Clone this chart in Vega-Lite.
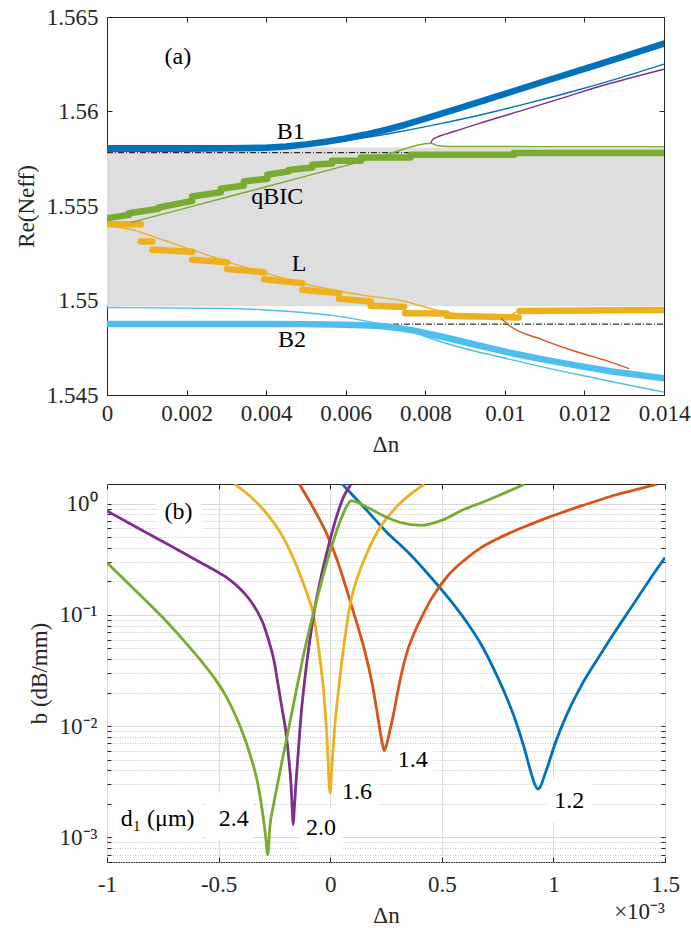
{
  "$schema": "https://vega.github.io/schema/vega-lite/v6.json",
  "background": "white",
  "padding": {"left": 14, "top": 5, "right": 5, "bottom": 5},
  "spacing": 26,
  "config": {
    "font": "Liberation Serif",
    "view": {"stroke": "#262626", "strokeWidth": 1},
    "axis": {
      "labelFont": "Liberation Serif", "titleFont": "Liberation Serif",
      "labelFontSize": 23, "titleFontSize": 23, "titleFontWeight": "normal",
      "labelColor": "#262626", "titleColor": "#262626", "tickColor": "#262626",
      "domain": false, "grid": false, "labelFlush": false, "labelOverlap": false
    },
    "text": {"font": "Liberation Serif", "fontSize": 24, "color": "#000000"}
  },
  "datasets": {
    "band": [{"x1": 0, "x2": 0.014, "y1": 1.5497, "y2": 1.5581}],
    "ref": [
      {"x1": 0, "x2": 0.014, "y": 1.55782},
      {"x1": 0, "x2": 0.014, "y": 1.54875}
    ],
    "thick": [
      {"band": "B1", "seg": "B1", "x": 0, "y": 1.55803},
      {"band": "B1", "seg": "B1", "x": 0.002, "y": 1.55803},
      {"band": "B1", "seg": "B1", "x": 0.004, "y": 1.55808},
      {"band": "B1", "seg": "B1", "x": 0.0045, "y": 1.55815},
      {"band": "B1", "seg": "B1", "x": 0.005, "y": 1.55826},
      {"band": "B1", "seg": "B1", "x": 0.0055, "y": 1.5584},
      {"band": "B1", "seg": "B1", "x": 0.006, "y": 1.55857},
      {"band": "B1", "seg": "B1", "x": 0.0065, "y": 1.55878},
      {"band": "B1", "seg": "B1", "x": 0.007, "y": 1.55903},
      {"band": "B1", "seg": "B1", "x": 0.0075, "y": 1.5593},
      {"band": "B1", "seg": "B1", "x": 0.008, "y": 1.55962},
      {"band": "B1", "seg": "B1", "x": 0.009, "y": 1.56027},
      {"band": "B1", "seg": "B1", "x": 0.01, "y": 1.56093},
      {"band": "B1", "seg": "B1", "x": 0.011, "y": 1.5616},
      {"band": "B1", "seg": "B1", "x": 0.012, "y": 1.56226},
      {"band": "B1", "seg": "B1", "x": 0.013, "y": 1.56292},
      {"band": "B1", "seg": "B1", "x": 0.014, "y": 1.56359},
      {"band": "B2", "seg": "B2", "x": 0, "y": 1.54876},
      {"band": "B2", "seg": "B2", "x": 0.004, "y": 1.54876},
      {"band": "B2", "seg": "B2", "x": 0.005, "y": 1.54875},
      {"band": "B2", "seg": "B2", "x": 0.006, "y": 1.54872},
      {"band": "B2", "seg": "B2", "x": 0.0068, "y": 1.54866},
      {"band": "B2", "seg": "B2", "x": 0.0073, "y": 1.54855},
      {"band": "B2", "seg": "B2", "x": 0.00767, "y": 1.54843},
      {"band": "B2", "seg": "B2", "x": 0.00851, "y": 1.54804},
      {"band": "B2", "seg": "B2", "x": 0.00935, "y": 1.54762},
      {"band": "B2", "seg": "B2", "x": 0.01018, "y": 1.54721},
      {"band": "B2", "seg": "B2", "x": 0.01102, "y": 1.54686},
      {"band": "B2", "seg": "B2", "x": 0.01186, "y": 1.54654},
      {"band": "B2", "seg": "B2", "x": 0.01269, "y": 1.54624},
      {"band": "B2", "seg": "B2", "x": 0.014, "y": 1.54589},
      {"band": "qBIC", "seg": "q1", "x": 0, "y": 1.55435},
      {"band": "qBIC", "seg": "q1", "x": 0.00055, "y": 1.55453},
      {"band": "qBIC", "seg": "q2", "x": 0.00055, "y": 1.55462},
      {"band": "qBIC", "seg": "q2", "x": 0.0013, "y": 1.55485},
      {"band": "qBIC", "seg": "q3", "x": 0.0013, "y": 1.55492},
      {"band": "qBIC", "seg": "q3", "x": 0.00214, "y": 1.55527},
      {"band": "qBIC", "seg": "q4", "x": 0.00214, "y": 1.5555},
      {"band": "qBIC", "seg": "q4", "x": 0.00286, "y": 1.55573},
      {"band": "qBIC", "seg": "q5", "x": 0.00286, "y": 1.55591},
      {"band": "qBIC", "seg": "q5", "x": 0.00344, "y": 1.55608},
      {"band": "qBIC", "seg": "q6", "x": 0.00344, "y": 1.5563},
      {"band": "qBIC", "seg": "q6", "x": 0.00403, "y": 1.55644},
      {"band": "qBIC", "seg": "q7", "x": 0.00403, "y": 1.55665},
      {"band": "qBIC", "seg": "q7", "x": 0.00457, "y": 1.55683},
      {"band": "qBIC", "seg": "q8", "x": 0.00457, "y": 1.55691},
      {"band": "qBIC", "seg": "q8", "x": 0.00516, "y": 1.55704},
      {"band": "qBIC", "seg": "q9", "x": 0.00516, "y": 1.55718},
      {"band": "qBIC", "seg": "q9", "x": 0.00566, "y": 1.55725},
      {"band": "qBIC", "seg": "q10", "x": 0.00566, "y": 1.55739},
      {"band": "qBIC", "seg": "q10", "x": 0.00638, "y": 1.55739},
      {"band": "qBIC", "seg": "q11", "x": 0.00638, "y": 1.55757},
      {"band": "qBIC", "seg": "q11", "x": 0.00763, "y": 1.55757},
      {"band": "qBIC", "seg": "q12", "x": 0.00763, "y": 1.55771},
      {"band": "qBIC", "seg": "q12", "x": 0.01023, "y": 1.55771},
      {"band": "qBIC", "seg": "q13", "x": 0.01023, "y": 1.55781},
      {"band": "qBIC", "seg": "q13", "x": 0.014, "y": 1.55781},
      {"band": "L", "seg": "l1", "x": 0, "y": 1.55404},
      {"band": "L", "seg": "l1", "x": 0.00085, "y": 1.55404},
      {"band": "L", "seg": "l2", "x": 0.00085, "y": 1.55312},
      {"band": "L", "seg": "l2", "x": 0.00114, "y": 1.55312},
      {"band": "L", "seg": "l3", "x": 0.00114, "y": 1.55269},
      {"band": "L", "seg": "l3", "x": 0.00214, "y": 1.55258},
      {"band": "L", "seg": "l4", "x": 0.00214, "y": 1.55215},
      {"band": "L", "seg": "l4", "x": 0.00302, "y": 1.55203},
      {"band": "L", "seg": "l5", "x": 0.00302, "y": 1.55166},
      {"band": "L", "seg": "l5", "x": 0.00395, "y": 1.5515},
      {"band": "L", "seg": "l6", "x": 0.00395, "y": 1.55113},
      {"band": "L", "seg": "l6", "x": 0.00491, "y": 1.55092},
      {"band": "L", "seg": "l7", "x": 0.00491, "y": 1.55057},
      {"band": "L", "seg": "l7", "x": 0.00583, "y": 1.55039},
      {"band": "L", "seg": "l8", "x": 0.00583, "y": 1.55009},
      {"band": "L", "seg": "l8", "x": 0.00663, "y": 1.54995},
      {"band": "L", "seg": "l9", "x": 0.00663, "y": 1.54972},
      {"band": "L", "seg": "l9", "x": 0.00747, "y": 1.54966},
      {"band": "L", "seg": "l10", "x": 0.00749, "y": 1.54933},
      {"band": "L", "seg": "l10", "x": 0.00854, "y": 1.54931},
      {"band": "L", "seg": "l11", "x": 0.00855, "y": 1.54919},
      {"band": "L", "seg": "l11", "x": 0.01035, "y": 1.5491},
      {"band": "L", "seg": "l12", "x": 0.01037, "y": 1.54945},
      {"band": "L", "seg": "l12", "x": 0.014, "y": 1.5495}
    ],
    "thin": [
      {"band": "B1", "x": 0, "y": 1.55819},
      {"band": "B1", "x": 0.003, "y": 1.55819},
      {"band": "B1", "x": 0.0045, "y": 1.55821},
      {"band": "B1", "x": 0.0052, "y": 1.55826},
      {"band": "B1", "x": 0.006, "y": 1.55847},
      {"band": "B1", "x": 0.0065, "y": 1.55862},
      {"band": "B1", "x": 0.00727, "y": 1.5589},
      {"band": "B1", "x": 0.00838, "y": 1.55936},
      {"band": "B1", "x": 0.00949, "y": 1.55987},
      {"band": "B1", "x": 0.01059, "y": 1.56044},
      {"band": "B1", "x": 0.0117, "y": 1.56106},
      {"band": "B1", "x": 0.01281, "y": 1.56173},
      {"band": "B1", "x": 0.014, "y": 1.56251},
      {"band": "EP+", "x": 0.00814, "y": 1.55832},
      {"band": "EP+", "x": 0.00818, "y": 1.5585},
      {"band": "EP+", "x": 0.0083, "y": 1.55865},
      {"band": "EP+", "x": 0.00851, "y": 1.5588},
      {"band": "EP+", "x": 0.00893, "y": 1.55908},
      {"band": "EP+", "x": 0.00951, "y": 1.55947},
      {"band": "EP+", "x": 0.0105, "y": 1.5601},
      {"band": "EP+", "x": 0.0115, "y": 1.56075},
      {"band": "EP+", "x": 0.0125, "y": 1.5614},
      {"band": "EP+", "x": 0.014, "y": 1.56224},
      {"band": "qBIC", "x": 0.00061, "y": 1.55413},
      {"band": "qBIC", "x": 0.002, "y": 1.5549},
      {"band": "qBIC", "x": 0.004, "y": 1.55602},
      {"band": "qBIC", "x": 0.006, "y": 1.55714},
      {"band": "qBIC", "x": 0.007, "y": 1.5577},
      {"band": "qBIC", "x": 0.00814, "y": 1.55832},
      {"band": "qBIC", "x": 0.0083, "y": 1.5582},
      {"band": "qBIC", "x": 0.0086, "y": 1.55815},
      {"band": "qBIC", "x": 0.014, "y": 1.55814},
      {"band": "L", "x": 0, "y": 1.55397},
      {"band": "L", "x": 0.00064, "y": 1.55374},
      {"band": "L", "x": 0.00147, "y": 1.55316},
      {"band": "L", "x": 0.00231, "y": 1.55256},
      {"band": "L", "x": 0.00315, "y": 1.55196},
      {"band": "L", "x": 0.00399, "y": 1.55145},
      {"band": "L", "x": 0.00483, "y": 1.55095},
      {"band": "L", "x": 0.00566, "y": 1.55057},
      {"band": "L", "x": 0.0065, "y": 1.55026},
      {"band": "L", "x": 0.00734, "y": 1.55002},
      {"band": "L", "x": 0.00851, "y": 1.54938},
      {"band": "L", "x": 0.0099, "y": 1.54906},
      {"band": "L", "x": 0.0101, "y": 1.54918},
      {"band": "L", "x": 0.0103, "y": 1.5494},
      {"band": "L", "x": 0.0106, "y": 1.54952},
      {"band": "L", "x": 0.014, "y": 1.54956},
      {"band": "EP−", "x": 0.0099, "y": 1.54906},
      {"band": "EP−", "x": 0.01011, "y": 1.54868},
      {"band": "EP−", "x": 0.01095, "y": 1.54792},
      {"band": "EP−", "x": 0.01178, "y": 1.5473},
      {"band": "EP−", "x": 0.01262, "y": 1.54677},
      {"band": "EP−", "x": 0.01312, "y": 1.5464},
      {"band": "B2", "x": 0, "y": 1.54963},
      {"band": "B2", "x": 0.003, "y": 1.54958},
      {"band": "B2", "x": 0.004, "y": 1.5495},
      {"band": "B2", "x": 0.005, "y": 1.54935},
      {"band": "B2", "x": 0.0057, "y": 1.5492},
      {"band": "B2", "x": 0.0068, "y": 1.54878},
      {"band": "B2", "x": 0.00767, "y": 1.54832},
      {"band": "B2", "x": 0.00851, "y": 1.54774},
      {"band": "B2", "x": 0.01018, "y": 1.54686},
      {"band": "B2", "x": 0.01186, "y": 1.54607},
      {"band": "B2", "x": 0.014, "y": 1.54515}
    ],
    "toplabels": [
      {"t": "(a)", "x": 0.00178, "y": 1.56291},
      {"t": "B1", "x": 0.00462, "y": 1.55894},
      {"t": "qBIC", "x": 0.00428, "y": 1.5555},
      {"t": "L", "x": 0.00483, "y": 1.55194},
      {"t": "B2", "x": 0.00465, "y": 1.5479}
    ],
    "boxes": [
      {"x1": -0.78, "x2": -0.579, "b1": 0.566, "b2": 1.13},
      {"x1": -0.973, "x2": -0.57, "b1": 0.00095, "b2": 0.0025},
      {"x1": -0.556, "x2": -0.346, "b1": 0.00095, "b2": 0.0025},
      {"x1": -0.138, "x2": 0.056, "b1": 0.0007, "b2": 0.0018},
      {"x1": 0.026, "x2": 0.213, "b1": 0.0019, "b2": 0.00353},
      {"x1": 0.272, "x2": 0.459, "b1": 0.00379, "b2": 0.00658},
      {"x1": 0.974, "x2": 1.168, "b1": 0.00135, "b2": 0.0033}
    ],
    "botlabels": [
      {"t": "(b)", "x": -0.68, "b": 0.84},
      {"t": "d₁ (μm)", "x": -0.773, "b": 0.00146},
      {"t": "2.4", "x": -0.432, "b": 0.00146},
      {"t": "2.0", "x": -0.041, "b": 0.00121},
      {"t": "1.6", "x": 0.12, "b": 0.00254},
      {"t": "1.4", "x": 0.37, "b": 0.00492},
      {"t": "1.2", "x": 1.071, "b": 0.0021}
    ],
    "note": [{"t": "×10⁻³", "x": 1.5, "b": 0.000185}],
    "loss": [
      {"d": "1.2", "x": 0.055, "b": 1.493}, {"d": "1.2", "x": 0.15, "b": 0.933}, {"d": "1.2", "x": 0.25, "b": 0.5623},
      {"d": "1.2", "x": 0.35, "b": 0.3631}, {"d": "1.2", "x": 0.45, "b": 0.2188}, {"d": "1.2", "x": 0.55, "b": 0.1259},
      {"d": "1.2", "x": 0.62, "b": 0.0813}, {"d": "1.2", "x": 0.68, "b": 0.0525}, {"d": "1.2", "x": 0.75, "b": 0.02754},
      {"d": "1.2", "x": 0.825, "b": 0.01202}, {"d": "1.2", "x": 0.87, "b": 0.00631}, {"d": "1.2", "x": 0.9, "b": 0.0038},
      {"d": "1.2", "x": 0.918, "b": 0.00295}, {"d": "1.2", "x": 0.93, "b": 0.00272}, {"d": "1.2", "x": 0.945, "b": 0.00295},
      {"d": "1.2", "x": 0.959, "b": 0.00355}, {"d": "1.2", "x": 0.975, "b": 0.00437}, {"d": "1.2", "x": 1.004, "b": 0.00661},
      {"d": "1.2", "x": 1.064, "b": 0.0132}, {"d": "1.2", "x": 1.124, "b": 0.0229}, {"d": "1.2", "x": 1.2, "b": 0.0407},
      {"d": "1.2", "x": 1.273, "b": 0.069}, {"d": "1.2", "x": 1.35, "b": 0.1175}, {"d": "1.2", "x": 1.422, "b": 0.1945},
      {"d": "1.2", "x": 1.5, "b": 0.327},
      {"d": "1.4", "x": -0.138, "b": 1.493}, {"d": "1.4", "x": -0.07, "b": 0.871}, {"d": "1.4", "x": -0.011, "b": 0.5105},
      {"d": "1.4", "x": 0.035, "b": 0.2951}, {"d": "1.4", "x": 0.078, "b": 0.1581}, {"d": "1.4", "x": 0.12, "b": 0.0832},
      {"d": "1.4", "x": 0.153, "b": 0.0489}, {"d": "1.4", "x": 0.19, "b": 0.0229}, {"d": "1.4", "x": 0.213, "b": 0.01225},
      {"d": "1.4", "x": 0.23, "b": 0.0076}, {"d": "1.4", "x": 0.242, "b": 0.00603}, {"d": "1.4", "x": 0.252, "b": 0.00676},
      {"d": "1.4", "x": 0.262, "b": 0.00813}, {"d": "1.4", "x": 0.272, "b": 0.01}, {"d": "1.4", "x": 0.283, "b": 0.01259},
      {"d": "1.4", "x": 0.3, "b": 0.01905}, {"d": "1.4", "x": 0.317, "b": 0.02818}, {"d": "1.4", "x": 0.345, "b": 0.04677},
      {"d": "1.4", "x": 0.377, "b": 0.069}, {"d": "1.4", "x": 0.41, "b": 0.0955}, {"d": "1.4", "x": 0.452, "b": 0.1377},
      {"d": "1.4", "x": 0.526, "b": 0.2234}, {"d": "1.4", "x": 0.6, "b": 0.309}, {"d": "1.4", "x": 0.676, "b": 0.4018},
      {"d": "1.4", "x": 0.75, "b": 0.4842}, {"d": "1.4", "x": 0.825, "b": 0.5675}, {"d": "1.4", "x": 0.9, "b": 0.6531},
      {"d": "1.4", "x": 0.974, "b": 0.7482}, {"d": "1.4", "x": 1.05, "b": 0.8472}, {"d": "1.4", "x": 1.124, "b": 0.9528},
      {"d": "1.4", "x": 1.2, "b": 1.0666}, {"d": "1.4", "x": 1.273, "b": 1.1885}, {"d": "1.4", "x": 1.37, "b": 1.3335},
      {"d": "1.4", "x": 1.464, "b": 1.493},
      {"d": "1.6", "x": -0.428, "b": 1.493}, {"d": "1.6", "x": -0.35, "b": 1.122}, {"d": "1.6", "x": -0.28, "b": 0.794},
      {"d": "1.6", "x": -0.22, "b": 0.537}, {"d": "1.6", "x": -0.17, "b": 0.339}, {"d": "1.6", "x": -0.116, "b": 0.1811},
      {"d": "1.6", "x": -0.071, "b": 0.091}, {"d": "1.6", "x": -0.05, "b": 0.0468}, {"d": "1.6", "x": -0.026, "b": 0.0173},
      {"d": "1.6", "x": -0.012, "b": 0.00631}, {"d": "1.6", "x": -0.004, "b": 0.00282}, {"d": "1.6", "x": 0.0, "b": 0.0025},
      {"d": "1.6", "x": 0.006, "b": 0.00398}, {"d": "1.6", "x": 0.018, "b": 0.00869}, {"d": "1.6", "x": 0.041, "b": 0.0245},
      {"d": "1.6", "x": 0.063, "b": 0.0562}, {"d": "1.6", "x": 0.093, "b": 0.1349}, {"d": "1.6", "x": 0.13, "b": 0.2399},
      {"d": "1.6", "x": 0.168, "b": 0.3715}, {"d": "1.6", "x": 0.21, "b": 0.5495}, {"d": "1.6", "x": 0.258, "b": 0.7586},
      {"d": "1.6", "x": 0.317, "b": 1.023}, {"d": "1.6", "x": 0.37, "b": 1.259}, {"d": "1.6", "x": 0.422, "b": 1.493},
      {"d": "2.0", "x": -1, "b": 0.859}, {"d": "2.0", "x": -0.878, "b": 0.6286}, {"d": "2.0", "x": -0.728, "b": 0.4305},
      {"d": "2.0", "x": -0.579, "b": 0.2944}, {"d": "2.0", "x": -0.52, "b": 0.2529}, {"d": "2.0", "x": -0.459, "b": 0.2128},
      {"d": "2.0", "x": -0.42, "b": 0.1841}, {"d": "2.0", "x": -0.385, "b": 0.1567}, {"d": "2.0", "x": -0.355, "b": 0.1318},
      {"d": "2.0", "x": -0.325, "b": 0.1059}, {"d": "2.0", "x": -0.3, "b": 0.0832}, {"d": "2.0", "x": -0.28, "b": 0.0631},
      {"d": "2.0", "x": -0.25, "b": 0.0372}, {"d": "2.0", "x": -0.235, "b": 0.0245}, {"d": "2.0", "x": -0.215, "b": 0.01413},
      {"d": "2.0", "x": -0.198, "b": 0.00869}, {"d": "2.0", "x": -0.185, "b": 0.00501}, {"d": "2.0", "x": -0.176, "b": 0.00308},
      {"d": "2.0", "x": -0.17, "b": 0.00178}, {"d": "2.0", "x": -0.166, "b": 0.0013}, {"d": "2.0", "x": -0.161, "b": 0.00178},
      {"d": "2.0", "x": -0.153, "b": 0.00316}, {"d": "2.0", "x": -0.14, "b": 0.00708}, {"d": "2.0", "x": -0.131, "b": 0.01225},
      {"d": "2.0", "x": -0.115, "b": 0.0251}, {"d": "2.0", "x": -0.095, "b": 0.0525}, {"d": "2.0", "x": -0.07, "b": 0.1122},
      {"d": "2.0", "x": -0.04, "b": 0.2239}, {"d": "2.0", "x": -0.01, "b": 0.3981}, {"d": "2.0", "x": 0.034, "b": 0.8299},
      {"d": "2.0", "x": 0.06, "b": 1.148}, {"d": "2.0", "x": 0.093, "b": 1.493},
      {"d": "2.4", "x": -1, "b": 0.2944}, {"d": "2.4", "x": -0.878, "b": 0.1694}, {"d": "2.4", "x": -0.728, "b": 0.0849},
      {"d": "2.4", "x": -0.65, "b": 0.0569}, {"d": "2.4", "x": -0.58, "b": 0.0389}, {"d": "2.4", "x": -0.52, "b": 0.02723},
      {"d": "2.4", "x": -0.47, "b": 0.01905}, {"d": "2.4", "x": -0.43, "b": 0.01318}, {"d": "2.4", "x": -0.4, "b": 0.00955},
      {"d": "2.4", "x": -0.36, "b": 0.00562}, {"d": "2.4", "x": -0.325, "b": 0.00308}, {"d": "2.4", "x": -0.305, "b": 0.00178},
      {"d": "2.4", "x": -0.29, "b": 0.00105}, {"d": "2.4", "x": -0.28, "b": 0.000698}, {"d": "2.4", "x": -0.27, "b": 0.00126},
      {"d": "2.4", "x": -0.255, "b": 0.00191}, {"d": "2.4", "x": -0.235, "b": 0.00308}, {"d": "2.4", "x": -0.19, "b": 0.00869},
      {"d": "2.4", "x": -0.145, "b": 0.0245}, {"d": "2.4", "x": -0.116, "b": 0.0468}, {"d": "2.4", "x": -0.071, "b": 0.1119},
      {"d": "2.4", "x": -0.011, "b": 0.3155}, {"d": "2.4", "x": 0.048, "b": 0.7228}, {"d": "2.4", "x": 0.075, "b": 0.955},
      {"d": "2.4", "x": 0.093, "b": 1.057}, {"d": "2.4", "x": 0.11, "b": 1.047}, {"d": "2.4", "x": 0.168, "b": 0.9204},
      {"d": "2.4", "x": 0.25, "b": 0.7586}, {"d": "2.4", "x": 0.317, "b": 0.6745}, {"d": "2.4", "x": 0.407, "b": 0.6383},
      {"d": "2.4", "x": 0.5, "b": 0.7079}, {"d": "2.4", "x": 0.601, "b": 0.8892}, {"d": "2.4", "x": 0.68, "b": 1.023},
      {"d": "2.4", "x": 0.75, "b": 1.1695}, {"d": "2.4", "x": 0.87, "b": 1.493}
    ]
  },
  "resolve": {"scale": {"x": "independent", "y": "independent", "color": "independent"}},
  "vconcat": [
    {
      "width": 557,
      "height": 378,
      "resolve": {"axis": {"x": "independent", "y": "independent"}},
      "layer": [
        {
          "data": {"name": "band"},
          "mark": {"type": "rect", "color": "#dedede"},
          "encoding": {
            "x": {"field": "x1", "type": "quantitative", "scale": {"domain": [0, 0.014], "nice": false},
              "axis": {"values": [0, 0.002, 0.004, 0.006, 0.008, 0.01, 0.012, 0.014], "format": ".3~f", "title": "Δn", "tickSize": -5, "labelPadding": 12, "titlePadding": 8}},
            "x2": {"field": "x2"},
            "y": {"field": "y1", "type": "quantitative", "scale": {"domain": [1.545, 1.565], "nice": false, "zero": false},
              "axis": {"values": [1.545, 1.55, 1.555, 1.56, 1.565], "format": ".3~f", "title": "Re(Neff)", "tickSize": -5, "labelPadding": 14, "titlePadding": 8}},
            "y2": {"field": "y2"}
          }
        },
        {
          "data": {"name": "ref"},
          "mark": {"type": "rule", "color": "#000000", "strokeWidth": 1, "strokeDash": [6, 2, 1, 2]},
          "encoding": {
            "x": {"field": "x1", "type": "quantitative", "scale": {"domain": [0, 0.014], "nice": false},
              "axis": {"orient": "top", "values": [0, 0.002, 0.004, 0.006, 0.008, 0.01, 0.012, 0.014], "labels": false, "title": null, "tickSize": -5}},
            "x2": {"field": "x2"},
            "y": {"field": "y", "type": "quantitative", "scale": {"domain": [1.545, 1.565], "nice": false, "zero": false},
              "axis": {"orient": "right", "values": [1.545, 1.55, 1.555, 1.56, 1.565], "labels": false, "title": null, "tickSize": -5}}
          }
        },
        {
          "data": {"name": "thick"},
          "mark": {"type": "line", "strokeWidth": 6.5, "strokeCap": "round", "strokeJoin": "round", "clip": true},
          "encoding": {
            "x": {"field": "x", "type": "quantitative", "scale": {"domain": [0, 0.014], "nice": false}, "axis": null},
            "y": {"field": "y", "type": "quantitative", "scale": {"domain": [1.545, 1.565], "nice": false, "zero": false}, "axis": null},
            "color": {"field": "band", "type": "nominal", "legend": null,
              "scale": {"domain": ["B1", "B2", "qBIC", "L", "EP+", "EP−"], "range": ["#0072BD", "#4DBEEE", "#77AC30", "#EDB120", "#7E2F8E", "#D95319"]}},
            "detail": {"field": "seg"}
          }
        },
        {
          "data": {"name": "thin"},
          "mark": {"type": "line", "strokeWidth": 1.4, "interpolate": "monotone", "clip": true},
          "encoding": {
            "x": {"field": "x", "type": "quantitative", "scale": {"domain": [0, 0.014], "nice": false}, "axis": null},
            "y": {"field": "y", "type": "quantitative", "scale": {"domain": [1.545, 1.565], "nice": false, "zero": false}, "axis": null},
            "color": {"field": "band", "type": "nominal", "legend": null,
              "scale": {"domain": ["B1", "B2", "qBIC", "L", "EP+", "EP−"], "range": ["#0072BD", "#4DBEEE", "#77AC30", "#EDB120", "#7E2F8E", "#D95319"]}}
          }
        },
        {
          "data": {"name": "toplabels"},
          "mark": {"type": "text", "fontSize": 24, "baseline": "middle", "align": "center"},
          "encoding": {
            "x": {"field": "x", "type": "quantitative", "scale": {"domain": [0, 0.014], "nice": false}, "axis": null},
            "y": {"field": "y", "type": "quantitative", "scale": {"domain": [1.545, 1.565], "nice": false, "zero": false}, "axis": null},
            "text": {"field": "t"}
          }
        }
      ]
    },
    {
      "width": 558,
      "height": 378,
      "resolve": {"axis": {"x": "independent", "y": "independent"}},
      "layer": [
        {
          "data": {"name": "boxes"},
          "mark": {"type": "rect", "color": "#ffffff"},
          "encoding": {
            "x": {"field": "x1", "type": "quantitative", "scale": {"domain": [-1, 1.5], "nice": false, "zero": false},
              "axis": {"values": [-1, -0.5, 0, 0.5, 1, 1.5], "labelExpr": "datum.value < 0 ? '-' + format(-datum.value, '~g') : format(datum.value, '~g')",
                "title": "Δn", "tickSize": -5, "labelPadding": 16, "titlePadding": 8, "grid": true, "gridColor": "#dcdcdc", "gridWidth": 1}},
            "x2": {"field": "x2"},
            "y": {"field": "b1", "type": "quantitative", "scale": {"type": "log", "domain": [0.0006, 1.5], "nice": false},
              "axis": {
                "values": [0.0006, 0.0007, 0.0008, 0.0009, 0.001, 0.002, 0.003, 0.004, 0.005, 0.006, 0.007, 0.008, 0.009, 0.01, 0.02, 0.03, 0.04, 0.05, 0.06, 0.07, 0.08, 0.09, 0.1, 0.2, 0.3, 0.4, 0.5, 0.6, 0.7, 0.8, 0.9, 1],
                "labelExpr": "datum.value == 1 ? '10⁰' : datum.value == 0.1 ? '10⁻¹' : datum.value == 0.01 ? '10⁻²' : datum.value == 0.001 ? '10⁻³' : ''",
                "title": "b (dB/mm)", "tickSize": -4, "labelPadding": 14, "titlePadding": 8, "grid": true,
                "gridColor": {"condition": {"test": "datum.value == 1 || datum.value == 0.1 || datum.value == 0.01 || datum.value == 0.001", "value": "#d8d8d8"}, "value": "#c4c4c4"},
                "gridDash": {"condition": {"test": "datum.value == 1 || datum.value == 0.1 || datum.value == 0.01 || datum.value == 0.001", "value": []}, "value": [1, 1.5]}
              }},
            "y2": {"field": "b2"}
          }
        },
        {
          "data": {"name": "loss"},
          "mark": {"type": "line", "strokeWidth": 2.8, "interpolate": "monotone", "clip": true},
          "encoding": {
            "x": {"field": "x", "type": "quantitative", "scale": {"domain": [-1, 1.5], "nice": false, "zero": false},
              "axis": {"orient": "top", "values": [-1, -0.5, 0, 0.5, 1, 1.5], "labels": false, "title": null, "tickSize": -5}},
            "y": {"field": "b", "type": "quantitative", "scale": {"type": "log", "domain": [0.0006, 1.5], "nice": false},
              "axis": {"orient": "right", "values": [0.0006, 0.0007, 0.0008, 0.0009, 0.001, 0.002, 0.003, 0.004, 0.005, 0.006, 0.007, 0.008, 0.009, 0.01, 0.02, 0.03, 0.04, 0.05, 0.06, 0.07, 0.08, 0.09, 0.1, 0.2, 0.3, 0.4, 0.5, 0.6, 0.7, 0.8, 0.9, 1],
                "labels": false, "title": null, "tickSize": -4}},
            "color": {"field": "d", "type": "nominal", "legend": null,
              "scale": {"domain": ["1.2", "1.4", "1.6", "2.0", "2.4"], "range": ["#0072BD", "#D95319", "#EDB120", "#7E2F8E", "#77AC30"]}}
          }
        },
        {
          "data": {"name": "botlabels"},
          "mark": {"type": "text", "fontSize": 24, "baseline": "middle", "align": "center"},
          "encoding": {
            "x": {"field": "x", "type": "quantitative", "scale": {"domain": [-1, 1.5], "nice": false, "zero": false}, "axis": null},
            "y": {"field": "b", "type": "quantitative", "scale": {"type": "log", "domain": [0.0006, 1.5], "nice": false}, "axis": null},
            "text": {"field": "t"}
          }
        },
        {
          "data": {"name": "note"},
          "mark": {"type": "text", "fontSize": 23, "baseline": "alphabetic", "align": "right", "color": "#262626"},
          "encoding": {
            "x": {"field": "x", "type": "quantitative", "scale": {"domain": [-1, 1.5], "nice": false, "zero": false}, "axis": null},
            "y": {"field": "b", "type": "quantitative", "scale": {"type": "log", "domain": [0.0006, 1.5], "nice": false}, "axis": null},
            "text": {"field": "t"}
          }
        }
      ]
    }
  ]
}
